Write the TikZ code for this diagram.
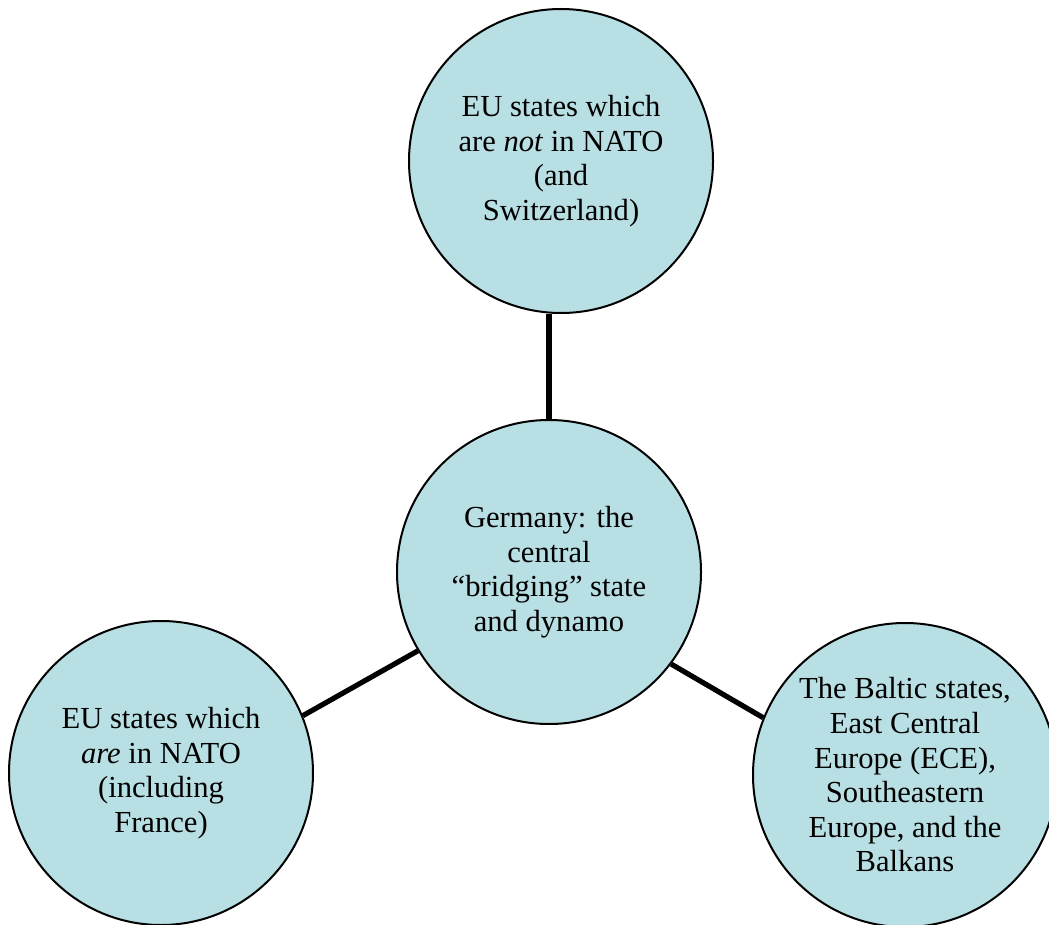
\documentclass[tikz,border=0pt]{standalone}
\usepackage{fontspec}
\setmainfont{Liberation Serif}
\definecolor{bubble}{RGB}{184,223,227}
\begin{document}
\begin{tikzpicture}[x=0.5pt,y=-0.5pt,
  bubblenode/.style={circle,draw=black,line width=1pt,fill=bubble,
    minimum size=152pt,inner sep=0pt,align=center,
    font=\fontsize{15.3}{17.3}\selectfont},
  link/.style={line width=2.6pt,draw=black}]
\useasboundingbox (0,0) rectangle (1049,925);
\node[bubblenode] (t) at (561,161) {EU states which\\are \textit{not} in NATO\\(and\\Switzerland)};
\node[bubblenode] (g) at (549,572) {Germany: the\\central\\“bridging” state\\and dynamo};
\node[bubblenode] (l) at (161,773) {EU states which\\\textit{are} in NATO\\(including\\France)};
\node[bubblenode] (r) at (905,775) {The Baltic states,\\East Central\\Europe (ECE),\\Southeastern\\Europe, and the\\Balkans};
\draw[link] (g.north) -- (g.north |- t.south);
\draw[link] (g.211) -- (l.22);
\draw[link] (g.-37.5) -- (r.158);
\end{tikzpicture}
\end{document}
